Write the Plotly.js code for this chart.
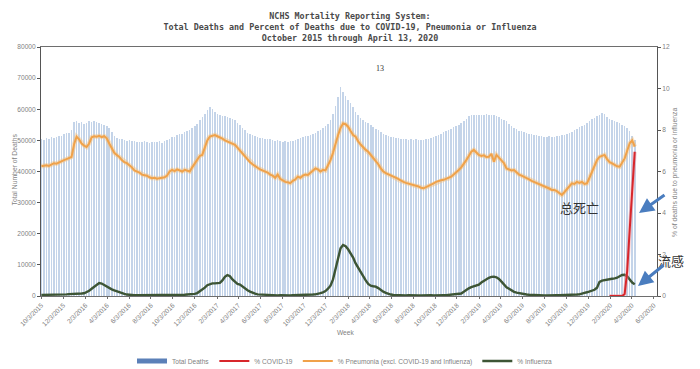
<!DOCTYPE html>
<html><head><meta charset="utf-8">
<script src="https://cdn.plot.ly/plotly-3.0.1.min.js"></script>
<style>html,body{margin:0;padding:0;background:#fff}#chart{width:700px;height:369px}</style>
</head><body><div id="chart"></div>
<script>
// weekly data, weeks ending 10/3/2015 ... 4/11/2020
const firstWeek = '2015-10-03';
const totalDeaths = [
50500,50200,50800,50600,51000,50700,51200,51500,51300,52000,
52500,52300,53300,55800,56200,55700,56000,55400,55600,56100,
55800,56300,55900,55500,55300,55000,54500,54000,52800,51300,
50800,50500,50300,50100,49900,50000,49700,49800,49500,49600,
49400,49700,49500,49300,49600,49400,49500,49700,49300,49800,
50200,50600,51200,51000,51800,52200,52000,52600,53000,53400,
54000,54600,55200,56400,57600,58500,59800,60800,60200,59200,
58600,58200,57900,57800,57600,57200,56900,56500,55600,54800,
54000,53200,52500,52000,51600,51300,51200,50900,50700,50600,
50500,50300,50100,49900,50000,49700,49600,49800,49500,49700,
49900,50200,50400,50700,51000,51300,51500,51700,52100,52500,
53000,53400,53900,54500,55300,56500,58500,61000,64000,67200,
65500,64200,63000,62000,60800,59200,58000,57300,56700,56000,
55500,55000,54300,53600,53300,52600,52000,51700,51400,51000,
51200,50700,50900,50500,50300,50600,50200,50400,50100,50300,
50000,50200,50100,50400,50600,50900,51100,51400,51700,52100,
52600,53000,53300,53800,54200,54600,55000,55600,56200,57000,
57800,58000,58200,58100,58300,58000,58200,58400,58100,58300,
58000,57900,57500,57000,56500,56200,55400,54500,53900,53500,
53100,52900,52700,52400,52200,51900,51700,51600,51400,51300,
51200,51000,51300,51100,51200,51400,51500,51700,51800,52000,
52300,52800,53300,53700,54200,54600,55000,55700,56300,56800,
57100,57700,58300,58800,58500,57600,57000,56500,56200,55800,
55500,55000,54600,54000,53000,51500,50000];
const pctPneumonia = [
6.25,6.28,6.30,6.27,6.35,6.40,6.38,6.45,6.50,6.55,
6.60,6.65,6.70,7.30,7.68,7.55,7.35,7.25,7.18,7.35,
7.65,7.70,7.68,7.72,7.66,7.70,7.60,7.35,7.10,6.90,
6.80,6.70,6.55,6.45,6.40,6.30,6.20,6.05,6.00,5.95,
5.85,5.82,5.80,5.72,5.68,5.70,5.65,5.68,5.70,5.72,
5.80,6.00,6.08,6.02,6.10,6.05,6.00,6.08,6.05,6.00,
6.20,6.40,6.60,6.75,6.80,7.20,7.50,7.68,7.72,7.76,
7.70,7.65,7.58,7.50,7.45,7.40,7.35,7.28,7.15,7.00,
6.85,6.72,6.60,6.45,6.35,6.25,6.18,6.10,6.05,6.00,
5.95,5.85,5.80,5.70,5.85,5.65,5.58,5.50,5.48,5.44,
5.55,5.62,5.75,5.70,5.80,5.85,5.83,5.95,6.05,6.15,
6.10,6.00,6.08,6.05,6.30,6.55,6.90,7.35,7.75,8.10,
8.32,8.28,8.16,7.95,7.76,7.68,7.45,7.30,7.15,7.04,
6.95,6.80,6.65,6.55,6.35,6.15,6.00,5.92,5.85,5.78,
5.75,5.70,5.62,5.55,5.50,5.45,5.42,5.38,5.35,5.30,
5.28,5.22,5.19,5.25,5.30,5.38,5.43,5.50,5.55,5.58,
5.60,5.65,5.67,5.75,5.85,5.95,6.07,6.20,6.35,6.55,
6.75,6.95,7.04,6.90,6.80,6.75,6.78,6.70,6.71,6.85,
6.47,6.80,6.65,6.50,6.40,6.15,6.10,6.05,6.07,5.95,
5.85,5.80,5.75,5.68,5.62,5.55,5.50,5.45,5.40,5.32,
5.27,5.22,5.18,5.11,5.11,5.05,4.95,4.87,5.00,5.15,
5.30,5.43,5.40,5.50,5.45,5.50,5.40,5.43,5.70,6.00,
6.30,6.55,6.71,6.75,6.80,6.60,6.45,6.39,6.30,6.25,
6.23,6.40,6.63,7.00,7.36,7.50,7.20];
const pctInfluenza = [
0.05,0.05,0.05,0.05,0.05,0.06,0.06,0.07,0.07,0.08,
0.08,0.09,0.09,0.10,0.10,0.11,0.12,0.13,0.18,0.25,
0.35,0.45,0.55,0.62,0.60,0.52,0.45,0.38,0.32,0.27,
0.22,0.17,0.13,0.10,0.07,0.05,0.05,0.04,0.04,0.04,
0.04,0.03,0.04,0.03,0.03,0.04,0.03,0.03,0.04,0.03,
0.04,0.04,0.04,0.05,0.05,0.05,0.06,0.06,0.07,0.08,
0.08,0.10,0.14,0.22,0.30,0.40,0.52,0.58,0.61,0.61,
0.61,0.63,0.75,0.92,1.01,0.95,0.80,0.68,0.58,0.55,
0.45,0.38,0.28,0.21,0.15,0.11,0.08,0.07,0.06,0.05,
0.05,0.04,0.04,0.04,0.03,0.04,0.03,0.03,0.04,0.03,
0.04,0.04,0.04,0.04,0.05,0.05,0.05,0.06,0.07,0.08,
0.10,0.14,0.18,0.24,0.35,0.50,0.80,1.35,1.89,2.30,
2.46,2.40,2.25,2.06,1.85,1.57,1.35,1.15,0.93,0.75,
0.58,0.50,0.47,0.45,0.38,0.28,0.21,0.15,0.10,0.07,
0.05,0.04,0.04,0.04,0.03,0.03,0.04,0.03,0.03,0.03,
0.03,0.03,0.04,0.03,0.03,0.04,0.03,0.04,0.04,0.04,
0.04,0.04,0.05,0.05,0.06,0.07,0.09,0.12,0.20,0.30,
0.37,0.43,0.46,0.50,0.55,0.65,0.74,0.82,0.88,0.92,
0.93,0.90,0.82,0.69,0.55,0.42,0.35,0.27,0.20,0.16,
0.13,0.10,0.08,0.07,0.06,0.05,0.04,0.04,0.04,0.03,
0.03,0.03,0.04,0.03,0.03,0.04,0.04,0.04,0.04,0.05,
0.05,0.05,0.06,0.07,0.08,0.10,0.15,0.18,0.22,0.26,
0.30,0.40,0.68,0.74,0.77,0.78,0.80,0.83,0.85,0.88,
0.95,1.01,1.02,0.95,0.80,0.65,0.56];
const covidFirstWeek = '2020-02-01';
const pctCovid = [0,0,0,0,0,0,0.1,1.2,3.2,5.1,6.95];
const tickLabels = ['10/3/2015','12/3/2015','2/3/2016','4/3/2016','6/3/2016','8/3/2016','10/3/2016','12/3/2016',
 '2/3/2017','4/3/2017','6/3/2017','8/3/2017','10/3/2017','12/3/2017','2/3/2018','4/3/2018','6/3/2018','8/3/2018',
 '10/3/2018','12/3/2018','2/3/2019','4/3/2019','6/3/2019','8/3/2019','10/3/2019','12/3/2019','2/3/2020','4/3/2020','6/3/2020'];

function weeks(start, n){
  const out=[]; const d0=new Date(start+'T12:00:00Z');
  for(let i=0;i<n;i++){ const d=new Date(d0.getTime()+i*7*86400000); out.push(d.toISOString().slice(0,10)); }
  return out;
}
function toIso(lbl){ const [m,d,y]=lbl.split('/'); return y+'-'+m.padStart(2,'0')+'-'+d.padStart(2,'0'); }
const weekDates = weeks(firstWeek, totalDeaths.length);
const covidDates = weeks(covidFirstWeek, pctCovid.length);

const W=616, H=249, L=41, T=47;
const px=x=>(x-L)/W, py=y=>(T+H-y)/H;
const gray='#7f7f7f', lf='Liberation Sans, Arial, sans-serif';

const data=[
 {type:'bar', x:weekDates, y:totalDeaths, name:'Total Deaths', showlegend:false,
  marker:{color:'#c4d4e9', line:{width:0}}, width:4.3*86400000, hoverinfo:'skip'},
 {type:'scatter', mode:'lines', x:[null], y:[null], name:'Total Deaths', line:{color:'#5b80b8', width:5}, legendrank:1},
 {type:'scatter', mode:'lines', x:weekDates, y:pctPneumonia, yaxis:'y2', showlegend:false, hoverinfo:'skip',
  line:{color:'rgba(246,190,120,0.45)', width:4.5}},
 {type:'scatter', mode:'lines', x:weekDates, y:pctPneumonia, yaxis:'y2', name:'% Pneumonia (excl. COVID-19 and Influenza)',
  line:{color:'#f0a24a', width:2}, legendrank:3},
 {type:'scatter', mode:'lines', x:weekDates, y:pctInfluenza, yaxis:'y2', name:'% Influenza',
  line:{color:'#3d5535', width:2.4}, legendrank:4},
 {type:'scatter', mode:'lines', x:covidDates, y:pctCovid, yaxis:'y2', showlegend:false, hoverinfo:'skip',
  line:{color:'rgba(240,150,160,0.45)', width:4}},
 {type:'scatter', mode:'lines', x:covidDates, y:pctCovid, yaxis:'y2', name:'% COVID-19',
  line:{color:'#d8262b', width:2}, legendrank:2}
];

const layout={
 width:700, height:369, margin:{l:41,r:43,t:47,b:73,autoexpand:false},
 paper_bgcolor:'#fff', plot_bgcolor:'#fff', bargap:0,
 title:{text:'NCHS Mortality Reporting System:<br>Total Deaths and Percent of Deaths due to COVID-19, Pneumonia or Influenza<br>October 2015 through April 13, 2020',
   font:{family:'DejaVu Sans Mono, monospace', size:8.4, color:'#4a4a4a', weight:'bold'}, x:0.5, xanchor:'center',
   yref:'container', y:1-19/369, yanchor:'middle'},
 xaxis:{type:'date', range:['2015-10-02','2020-06-12'], tickvals:tickLabels.map(toIso), ticktext:tickLabels, automargin:false,
   tickangle:-45, tickfont:{family:lf, size:6.6, color:gray}, showgrid:false, zeroline:false,
   showline:true, mirror:true, linecolor:'#6e6e6e', linewidth:1, ticks:'outside', ticklen:2, tickcolor:'#6e6e6e'},
 yaxis:{range:[0,80000], dtick:10000, tickformat:'d', automargin:false, showgrid:false, zeroline:false, showline:true, linecolor:'#555', linewidth:1,
   ticks:'outside', ticklen:3, tickcolor:'#555', tickfont:{family:lf, size:6.6, color:gray}},
 yaxis2:{range:[0,12], dtick:2, overlaying:'y', side:'right', automargin:false, showgrid:false, zeroline:false, showline:true,
   linecolor:'#555', linewidth:1, ticks:'outside', ticklen:3, tickcolor:'#555', tickfont:{family:lf, size:6.6, color:gray}},
 legend:{orientation:'h', xref:'paper', x:px(345), xanchor:'center', yref:'container', y:(369-361)/369, yanchor:'middle', itemwidth:30,
   font:{family:lf, size:6.6, color:gray}, traceorder:'normal', bgcolor:'rgba(0,0,0,0)'},
 annotations:[
  {xref:'paper', yref:'paper', x:px(345), y:py(338), text:'Week', showarrow:false, font:{family:lf,size:6.6,color:gray}},
  {xref:'paper', yref:'paper', x:px(8), y:py(170), text:'Total Number of Deaths', textangle:-90, showarrow:false, font:{family:lf,size:6.8,color:gray}},
  {xref:'paper', yref:'paper', x:px(681), y:py(172), text:'% of deaths due to pneumonia or influenza', textangle:-90, showarrow:false, font:{family:lf,size:6.8,color:gray}},
  {xref:'paper', yref:'paper', x:px(380), y:py(62), text:'13', showarrow:false, font:{family:'Liberation Serif, serif',size:8,color:'#333'}},
  {xref:'paper', yref:'paper', x:px(601), y:py(219), text:'总死亡', showarrow:false, font:{family:'Noto Sans CJK SC, sans-serif',size:13,color:'#333'}},
  {xref:'paper', yref:'paper', x:px(686), y:py(272), text:'流感', showarrow:false, font:{family:'Noto Sans CJK SC, sans-serif',size:13,color:'#333'}},
  {xref:'paper', yref:'paper', x:px(639), y:py(213), ax:27, ay:-19, text:'', showarrow:true, arrowhead:2, arrowsize:1, arrowwidth:3, arrowcolor:'#4a7dbf', font:{size:1}},
  {xref:'paper', yref:'paper', x:px(638), y:py(286), ax:27, ay:-22, text:'', showarrow:true, arrowhead:2, arrowsize:1, arrowwidth:3, arrowcolor:'#4a7dbf', font:{size:1}}
 ]
};
Plotly.newPlot('chart', data, layout, {displayModeBar:false, staticPlot:true});
</script></body></html>
